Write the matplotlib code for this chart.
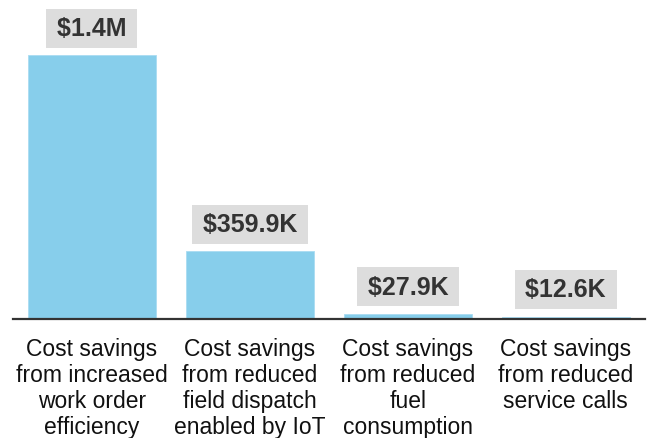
import matplotlib
matplotlib.use('Agg')
import matplotlib.pyplot as plt

categories = [
    'Cost savings\nfrom increased\nwork order\nefficiency',
    'Cost savings\nfrom reduced\nfield dispatch\nenabled by IoT',
    'Cost savings\nfrom reduced\nfuel\nconsumption',
    'Cost savings\nfrom reduced\nservice calls',
]
values = [1.4e6, 359.9e3, 27.9e3, 12.6e3]
value_labels = ['$1.4M', '$359.9K', '$27.9K', '$12.6K']

fig = plt.figure(figsize=(6.48, 4.39), dpi=100)
ax = fig.add_axes([0.02, 0.271, 0.975, 0.729])
x = list(range(len(values)))
ax.bar(x, values, width=0.81, color='#87CEEB', edgecolor='#a9dcf2', linewidth=0.6)
ax.set_xlim(-0.5, 3.5)
ax.set_ylim(0, 1.7e6)
for s in ['top', 'right', 'left']:
    ax.spines[s].set_visible(False)
ax.spines['bottom'].set_color('#333333')
ax.spines['bottom'].set_linewidth(1.6)
ax.set_yticks([])
ax.set_xticks(x)
ax.set_xticklabels(categories, fontsize=16.5, family='Liberation Sans',
                   linespacing=1.17, color='#111111')
ax.tick_params(axis='x', length=0, pad=13)

for xi, v, lab in zip(x, values, value_labels):
    ax.annotate(' ' + lab + ' ', (xi, v), xytext=(0, 11), textcoords='offset points',
                ha='center', va='bottom', fontsize=18, fontweight='bold',
                family='Liberation Sans', color='#333333',
                bbox=dict(boxstyle='square,pad=0.15', fc='#DDDDDD', ec='none',
                          mutation_aspect=2.0))

fig.savefig('out.png', dpi=100)
